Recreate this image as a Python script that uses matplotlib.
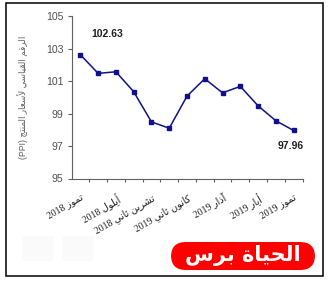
import matplotlib
matplotlib.use("Agg")
import matplotlib.pyplot as plt
from matplotlib.patches import Rectangle, FancyBboxPatch

# ---------------- data ----------------
months = ["تموز 2018", "آب 2018", "أيلول 2018", "تشرين أول 2018", "تشرين ثاني 2018",
          "كانون أول 2018", "كانون ثاني 2019", "شباط 2019", "آذار 2019", "نيسان 2019",
          "أيار 2019", "حزيران 2019", "تموز 2019"]
ppi = [102.63, 101.48, 101.58, 100.35, 98.49, 98.10, 100.08,
       101.15, 100.28, 100.68, 99.48, 98.56, 97.96]
label_months = ["تموز", "أيلول", "تشرين ثاني", "كانون ثاني", "آذار", "أيار", "تموز"]
label_years = ["2018", "2018", "2018", "2019", "2019", "2019", "2019"]
ylabel_ar = "الرقم القياسي لأسعار المنتج"
ylabel_en = "(PPI)"
logo_text = "الحياة برس"
yticks = [95, 97, 99, 101, 103, 105]

# ---------------- minimal Arabic shaping ----------------
AR = {
    'ا': (0xFE8D, 0xFE8E, None, None), 'أ': (0xFE83, 0xFE84, None, None),
    'آ': (0xFE81, 0xFE82, None, None), 'ب': (0xFE8F, 0xFE90, 0xFE91, 0xFE92),
    'ة': (0xFE93, 0xFE94, None, None), 'ت': (0xFE95, 0xFE96, 0xFE97, 0xFE98),
    'ث': (0xFE99, 0xFE9A, 0xFE9B, 0xFE9C), 'ج': (0xFE9D, 0xFE9E, 0xFE9F, 0xFEA0),
    'ح': (0xFEA1, 0xFEA2, 0xFEA3, 0xFEA4), 'ذ': (0xFEAB, 0xFEAC, None, None),
    'ر': (0xFEAD, 0xFEAE, None, None), 'ز': (0xFEAF, 0xFEB0, None, None),
    'س': (0xFEB1, 0xFEB2, 0xFEB3, 0xFEB4), 'ش': (0xFEB5, 0xFEB6, 0xFEB7, 0xFEB8),
    'ع': (0xFEC9, 0xFECA, 0xFECB, 0xFECC), 'ق': (0xFED5, 0xFED6, 0xFED7, 0xFED8),
    'ك': (0xFED9, 0xFEDA, 0xFEDB, 0xFEDC), 'ل': (0xFEDD, 0xFEDE, 0xFEDF, 0xFEE0),
    'م': (0xFEE1, 0xFEE2, 0xFEE3, 0xFEE4), 'ن': (0xFEE5, 0xFEE6, 0xFEE7, 0xFEE8),
    'و': (0xFEED, 0xFEEE, None, None), 'ي': (0xFEF1, 0xFEF2, 0xFEF3, 0xFEF4),
}
LAMALEF = {'آ': (0xFEF5, 0xFEF6), 'أ': (0xFEF7, 0xFEF8), 'ا': (0xFEFB, 0xFEFC)}


def shape(text):
    toks = []
    i = 0
    while i < len(text):
        c = text[i]
        if c == 'ل' and i + 1 < len(text) and text[i + 1] in LAMALEF:
            toks.append(('LA', text[i + 1]))
            i += 2
        else:
            toks.append(('C', c))
            i += 1

    def joins_next(t):
        if t[0] == 'LA':
            return False
        f = AR.get(t[1])
        return f is not None and f[2] is not None

    def joins_prev(t):
        return t[0] == 'LA' or t[1] in AR

    out = []
    for k, t in enumerate(toks):
        prev = toks[k - 1] if k > 0 else None
        nxt = toks[k + 1] if k + 1 < len(toks) else None
        jp = prev is not None and joins_next(prev) and joins_prev(t)
        jn = nxt is not None and joins_next(t) and joins_prev(nxt)
        if t[0] == 'LA':
            iso, fin = LAMALEF[t[1]]
            out.append(chr(fin if jp else iso))
        elif t[1] in AR:
            iso, fin, ini, med = AR[t[1]]
            if jp and jn:
                cp = med
            elif jp:
                cp = fin
            elif jn:
                cp = ini
            else:
                cp = iso
            out.append(chr(cp))
        else:
            out.append(t[1])
    return ''.join(reversed(out))


# ---------------- figure ----------------
W, H = 329, 281
fig = plt.figure(figsize=(W / 100, H / 100), dpi=100)
fig.patch.set_facecolor("white")

# outer frame
fig.patches.append(Rectangle((5.7 / W, 1 - 276 / H), (322.7 - 5.7) / W, (276 - 3.3) / H,
                             transform=fig.transFigure, fill=False, edgecolor="black",
                             linewidth=1.1, zorder=0))

ax = fig.add_axes([71.5 / W, 1 - 178.5 / H, (302.5 - 71.5) / W, (178.5 - 16.3) / H])
x = list(range(len(ppi)))
ax.plot(x, ppi, color="#10108A", linewidth=1.1, marker="s", markersize=2.2,
        markerfacecolor="#10108A", markeredgecolor="#10108A")

ax.set_xlim(-0.5, len(ppi) - 0.5)
ax.set_ylim(95, 105)
ax.set_yticks(yticks)
ax.set_yticklabels([str(v) for v in yticks], fontsize=7.6, color="#505050",
                   family=["Liberation Sans", "DejaVu Sans"])
for s in ["top", "right"]:
    ax.spines[s].set_visible(False)
for s in ["left", "bottom"]:
    ax.spines[s].set_color("#606060")
    ax.spines[s].set_linewidth(0.8)

# minor ticks at category boundaries, major (labelled) at every second point
ax.set_xticks([k + 0.5 for k in range(len(ppi))], minor=True)
ax.set_xticks(x[::2])
ax.tick_params(axis="x", which="minor", length=2.5, color="#606060", width=0.8, direction="out")
ax.tick_params(axis="x", which="major", length=0, pad=10)
ax.tick_params(axis="y", length=2.7, color="#606060", width=0.8, pad=3)

xlabels = [y + " " + shape(m) for m, y in zip(label_months, label_years)]
ax.set_xticklabels(xlabels, rotation=30, ha="right", rotation_mode="anchor",
                   fontsize=7.0, color="#202020",
                   family=["Liberation Serif", "DejaVu Sans"])

ax.set_ylabel(ylabel_en + " " + shape(ylabel_ar), fontsize=6.3, color="#606060",
              family=["Liberation Sans", "DejaVu Sans"], labelpad=12)

# value annotations
ax.annotate(f"{ppi[0]:.2f}", xy=(x[0], ppi[0]), xytext=(27, 21), textcoords="offset pixels",
            ha="center", va="center", fontsize=7.5, fontweight="bold", color="#202020",
            family=["Liberation Sans", "DejaVu Sans"])
ax.annotate(f"{ppi[-1]:.2f}", xy=(x[-1], ppi[-1]), xytext=(-3, -16), textcoords="offset pixels",
            ha="center", va="center", fontsize=7.5, fontweight="bold", color="#202020",
            family=["Liberation Sans", "DejaVu Sans"])

# faint icons bottom-left
for x0 in (22.3, 62.3):
    fig.patches.append(FancyBboxPatch((x0 / W, 1 - 261 / H), 31 / W, 25 / H,
                                      boxstyle="round,pad=0,rounding_size=0.01",
                                      transform=fig.transFigure, facecolor="#FAFAFA",
                                      edgecolor="none", zorder=0))

# red logo box
fig.patches.append(FancyBboxPatch((171 / W, 1 - 270 / H), (315 - 171) / W, (270 - 242) / H,
                                  boxstyle="round,pad=0,rounding_size=0.045",
                                  transform=fig.transFigure, facecolor="#FF0000",
                                  edgecolor="none", zorder=1, mutation_aspect=W / H))
fig.text(243 / W, 1 - 256 / H, shape(logo_text), ha="center", va="center",
         fontsize=15, fontweight="bold", color="white", family="DejaVu Sans", zorder=2)

fig.savefig("out.png", dpi=100, facecolor="white")
